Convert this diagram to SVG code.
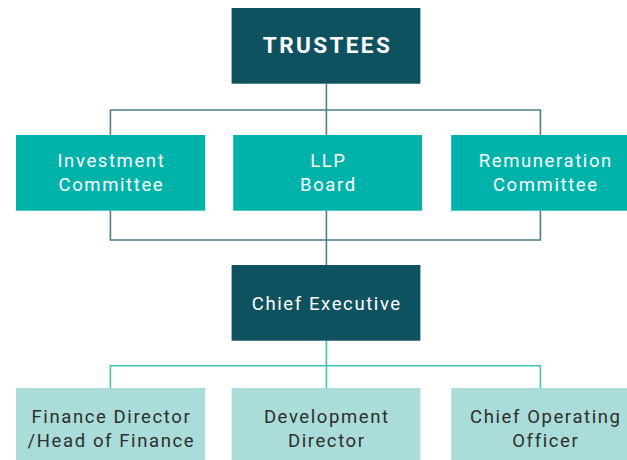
<svg xmlns="http://www.w3.org/2000/svg" width="627" height="460" viewBox="0 0 627 460">
<style>
.dark{fill:#0f525f}
.mid{fill:#00b3aa}
.light{fill:#aadcd9}
.t{font-family:Roboto,"Liberation Sans",sans-serif;font-size:18.5px;letter-spacing:1.6px;text-anchor:middle}
.w{fill:#ffffff}
.k{fill:#2e2e2e}
.c1{fill:none;stroke:#4e7d87;stroke-width:1.6}
.c2{fill:none;stroke:#3cc3b6;stroke-width:1.6}
</style>
<rect width="627" height="460" fill="#ffffff"/>
<g id="connectors">
<path class="c1" d="M326.4 83.5V135M110.4 135V110H540.4V135"/>
<path class="c1" d="M110.4 210.7V240H540.4V210.7M326.4 210.7V265"/>
<path class="c2" d="M326.4 340.7V388M110.4 388V365.7H540.4V388"/>
</g>
<g id="trustees">
<rect class="dark" x="231.6" y="8" width="188.8" height="75.7"/>
<text class="t w" x="327.5" y="53.3" font-weight="bold" style="font-size:22.5px;letter-spacing:2.4px">TRUSTEES</text>
</g>
<g id="investment">
<rect class="mid" x="16" y="135" width="189.2" height="75.7"/>
<text class="t w" x="111.4" y="166.7">Investment</text>
<text class="t w" x="111.4" y="190.7">Committee</text>
</g>
<g id="llp">
<rect class="mid" x="233.2" y="135" width="188.8" height="75.7"/>
<text class="t w" x="328.4" y="166.7">LLP</text>
<text class="t w" x="328.4" y="190.7">Board</text>
</g>
<g id="remuneration">
<rect class="mid" x="451.2" y="135" width="175.8" height="75.7"/>
<text class="t w" x="545.8" y="166.7">Remuneration</text>
<text class="t w" x="545.8" y="190.7">Committee</text>
</g>
<g id="chief-executive">
<rect class="dark" x="231.6" y="265" width="188.8" height="75.7"/>
<text class="t w" x="326.8" y="309.5">Chief Executive</text>
</g>
<g id="finance">
<rect class="light" x="16" y="388" width="189.2" height="72"/>
<text class="t k" x="111.4" y="423.3">Finance Director</text>
<text class="t k" x="111.4" y="446.7">/Head of Finance</text>
</g>
<g id="development">
<rect class="light" x="231.6" y="388" width="188.8" height="72"/>
<text class="t k" x="326.8" y="423.3">Development</text>
<text class="t k" x="326.8" y="446.7">Director</text>
</g>
<g id="coo">
<rect class="light" x="451.2" y="388" width="175.8" height="72"/>
<text class="t k" x="545.8" y="423.3">Chief Operating</text>
<text class="t k" x="545.8" y="446.7">Officer</text>
</g>
</svg>
